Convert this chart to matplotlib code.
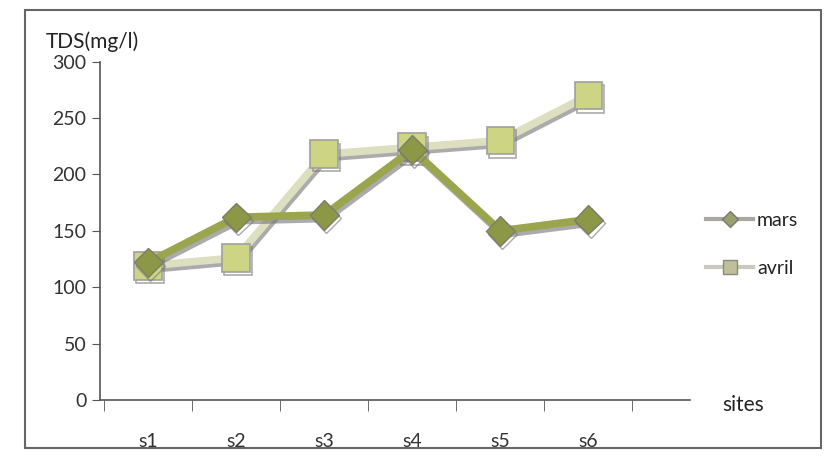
import matplotlib.pyplot as plt
import matplotlib.patheffects as pe
from matplotlib.patches import Rectangle
from matplotlib.lines import Line2D

# donnees
sites = ["s1", "s2", "s3", "s4", "s5", "s6"]
mars = [122, 162, 164, 222, 150, 160]
avril = [119, 126, 218, 224, 230, 270]
yticks = [0, 50, 100, 150, 200, 250, 300]

plt.rcParams['font.family'] = ['Lato', 'DejaVu Sans']

fig = plt.figure(figsize=(8.25, 4.57), dpi=100)
ax = fig.add_axes([0.121, 0.125, 0.715, 0.74])

x = list(range(1, len(sites) + 1))
ombre = [pe.SimpleLineShadow(offset=(1.5, -2.5), shadow_color="0.45", alpha=0.6), pe.Normal()]

ax.plot(x, avril, color="#dcdfc0", lw=5.5, marker="s", ms=20,
        mfc="#cdd584", mec="#a0a0a0", mew=1.2, path_effects=ombre, zorder=2)
ax.plot(x, mars, color="#9aa54e", lw=5.5, marker="D", ms=15,
        mfc="#8c9846", mec="#7d7d6a", mew=1.0, path_effects=ombre, zorder=3)

ax.set_xlim(0.45, 7.15)
ax.set_ylim(0, 300)
ax.set_yticks(yticks)
ax.set_xticks(x)
ax.set_xticklabels(sites)
ax.set_xticks([i + 0.5 for i in range(0, 7)], minor=True)
ax.tick_params(axis="x", which="major", length=0, pad=24, labelsize=14, colors="#333333")
ax.tick_params(axis="x", which="minor", length=8, color="#555555")
ax.tick_params(axis="y", length=6, labelsize=14, colors="#333333", color="#555555")

for s in ["top", "right"]:
    ax.spines[s].set_visible(False)
for s in ["left", "bottom"]:
    ax.spines[s].set_color("#555555")
    ax.spines[s].set_linewidth(1.2)

fig.text(0.055, 0.895, "TDS(mg/l)", fontsize=15, color="#222222")
fig.text(0.875, 0.1, "sites", fontsize=15, color="#222222")

# legende avec petits symboles comme dans Excel
h_mars = Line2D([], [], color="#a8a8a0", lw=3, marker="D", ms=8, mfc="#9aa070", mec="#777777")
h_avril = Line2D([], [], color="#c8c8c0", lw=3, marker="s", ms=10, mfc="#c0c098", mec="#888888")
leg = fig.legend([h_mars, h_avril], ["mars", "avril"], loc="center left",
                 bbox_to_anchor=(0.835, 0.465), frameon=False, fontsize=14,
                 handlelength=2.4, labelspacing=1.6, handletextpad=0.2)
for t in leg.get_texts():
    t.set_color("#222222")

# cadre du graphique
fig.patches.append(Rectangle((0.03, 0.02), 0.965, 0.958, transform=fig.transFigure,
                             fill=False, edgecolor="#666666", lw=1.5))

fig.savefig("out.png")
